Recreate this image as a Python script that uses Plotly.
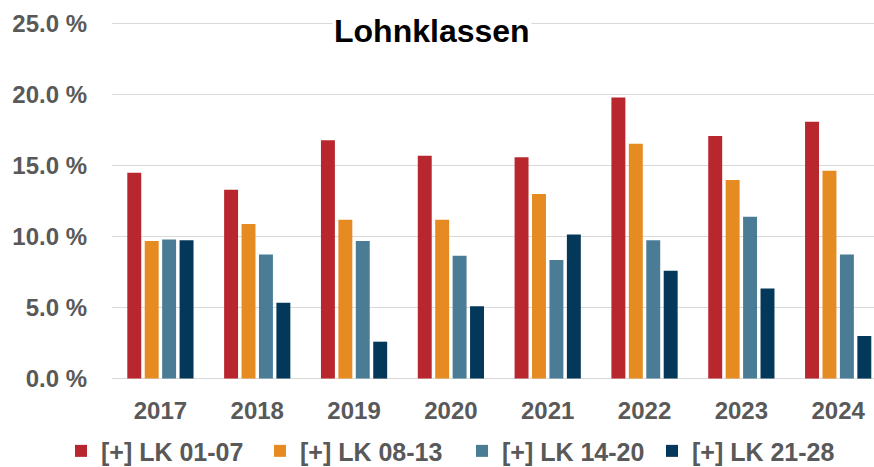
import plotly.graph_objects as go

years = ["2017", "2018", "2019", "2020", "2021", "2022", "2023", "2024"]
series_names = ["[+] LK 01-07", "[+] LK 08-13", "[+] LK 14-20", "[+] LK 21-28"]
lk_01_07 = [14.5, 13.3, 16.8, 15.7, 15.6, 19.8, 17.1, 18.1]
lk_08_13 = [9.7, 10.9, 11.2, 11.2, 13.0, 16.55, 14.0, 14.65]
lk_14_20 = [9.8, 8.75, 9.7, 8.65, 8.35, 9.75, 11.4, 8.75]
lk_21_28 = [9.75, 5.35, 2.6, 5.1, 10.15, 7.6, 6.35, 3.0]
colors = ["#B8262E", "#E68B22", "#4A7C96", "#03385A"]
title_text = "Lohnklassen"

font_fam = "Liberation Sans, Arial, sans-serif"
grey = "#595959"

legend_ids = ["legend", "legend2", "legend3", "legend4"]
legend_left_px = [61, 260, 462, 652]

fig = go.Figure()
for name, vals, col, lid in zip(series_names, [lk_01_07, lk_08_13, lk_14_20, lk_21_28], colors, legend_ids):
    fig.add_trace(go.Bar(x=years, y=vals, name=name, legend=lid,
                         marker=dict(color=col, line=dict(width=0))))

top_px = 21.2
plot_h = 358.8
layout_legends = {}
for lid, lx in zip(legend_ids, legend_left_px):
    layout_legends[lid] = dict(
        orientation="h", xref="container", x=lx / 874, xanchor="left",
        y=0.034, yref="container", yanchor="middle",
        font=dict(family=font_fam, size=25, color=grey, weight="bold"),
        itemsizing="constant", bgcolor="rgba(0,0,0,0)",
    )

fig.update_layout(
    width=874, height=467,
    margin=dict(l=112, r=0, t=top_px, b=467 - top_px - plot_h, autoexpand=False),
    paper_bgcolor="white", plot_bgcolor="white",
    barmode="group", bargap=0.28, bargroupgap=0.2,
    showlegend=True,
    font=dict(family=font_fam, color=grey),
    **layout_legends,
)
fig.update_xaxes(
    type="category", range=[-0.5, 7.37], showgrid=False, showline=False, zeroline=False,
    tickfont=dict(family=font_fam, size=24, color=grey, weight="bold"),
    ticks="", ticklabelstandoff=14, automargin=False,
)
fig.update_yaxes(
    range=[-0.1, 25.2], tick0=0, dtick=5, tickformat=".1f", ticksuffix=" %",
    showgrid=True, gridcolor="#D9D9D9", gridwidth=1.3, zeroline=False, showline=False,
    tickfont=dict(family=font_fam, size=24, color=grey, weight="bold"),
    ticks="", ticklabelstandoff=24, automargin=False,
)
fig.add_annotation(
    text=title_text, xref="paper", yref="paper", x=(432 - 112) / 762, y=1 - (31 - top_px) / plot_h,
    xanchor="center", yanchor="middle", showarrow=False, bgcolor="white", borderpad=1,
    font=dict(family=font_fam, size=32, color="black", weight="bold"),
)
fig.write_html("out.html", config={"displayModeBar": False},
               post_script="document.body.style.margin='0';")
